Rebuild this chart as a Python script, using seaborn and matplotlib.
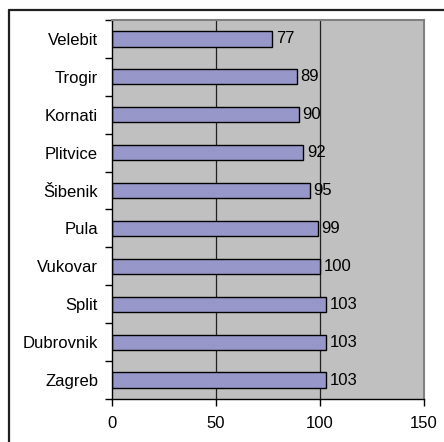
import matplotlib
matplotlib.use("Agg")
import matplotlib.pyplot as plt
import seaborn as sns
from matplotlib.lines import Line2D

places = ["Velebit", "Trogir", "Kornati", "Plitvice", "Šibenik",
          "Pula", "Vukovar", "Split", "Dubrovnik", "Zagreb"]
scores = [77, 89, 90, 92, 95, 99, 100, 103, 103, 103]
x_ticks = [0, 50, 100, 150]

sns.set_style("white")
plt.rcParams["font.family"] = ["Liberation Sans", "DejaVu Sans"]
plt.rcParams["text.color"] = "black"
plt.rcParams["xtick.color"] = "black"
plt.rcParams["ytick.color"] = "black"

fig = plt.figure(figsize=(4.44, 4.42), dpi=100)
ax = fig.add_axes([112 / 444, 43 / 442, 312 / 444, 379 / 442])
ax.set_facecolor("#C0C0C0")

sns.barplot(x=scores, y=places, orient="h", color="#9797CA", saturation=1,
            edgecolor="black", linewidth=1, width=0.4, ax=ax)

# value labels at bar ends
ax.bar_label(ax.containers[0], padding=2.5, fontsize=12, color="black")

ax.set_xlim(0, 150)
ax.set_ylim(len(places) - 0.5, -0.5)
ax.set_xticks(x_ticks)
ax.set_xticklabels([str(t) for t in x_ticks])
for v in x_ticks[1:3]:
    ax.axvline(v, color="#202020", linewidth=0.9, zorder=0)

# ticks between categories, like the spreadsheet chart
ax.set_yticks([i - 0.5 for i in range(len(places) + 1)], minor=True)
ax.tick_params(axis="y", which="major", length=0, pad=10, labelsize=12,
               labelcolor="black")
ax.tick_params(axis="y", which="minor", length=5, width=1, color="black", left=True)
ax.tick_params(axis="x", which="major", length=5, width=1, color="black",
               bottom=True, pad=7, labelsize=12, labelcolor="black")
ax.set_xlabel("")
ax.set_ylabel("")

for side in ["top", "right"]:
    ax.spines[side].set_color("#808080")
    ax.spines[side].set_linewidth(1.5)
for side in ["left", "bottom"]:
    ax.spines[side].set_color("black")
    ax.spines[side].set_linewidth(1)

# outer chart frame (top and left edges visible)
top = 1 - 9.5 / 442
left = 8.5 / 444
fig.add_artist(Line2D([left, 1.0], [top, top], transform=fig.transFigure,
                      color="#202020", linewidth=1.6))
fig.add_artist(Line2D([left, left], [0.0, top], transform=fig.transFigure,
                      color="#202020", linewidth=1.6))

fig.savefig("out.png", dpi=100)
